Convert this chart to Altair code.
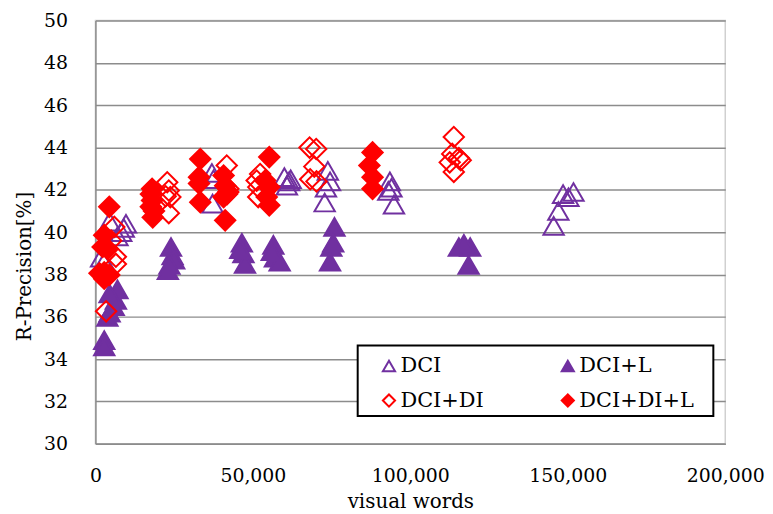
import altair as alt
import pandas as pd

SERIES = ["DCI", "DCI+L", "DCI+DI", "DCI+DI+L"]
PURPLE = "#7030A0"
RED = "#FF0000"

# DCI (open triangles)
dci_x = [1800, 2800, 4500, 7000, 8200, 9000, 9700,
         37000, 37500, 37200,
         60000, 60800, 61500, 62000,
         73800, 74500, 73200, 72800,
         93500, 94000, 93000, 94800,
         148500, 151800, 150200, 147000, 145500]
dci_y = [38.8, 38.6, 40.5, 39.8, 40.0, 40.2, 40.4,
         42.8, 42.5, 41.35,
         42.6, 42.2, 42.4, 42.5,
         42.9, 42.4, 42.1, 41.4,
         42.4, 42.1, 41.95, 41.3,
         41.8, 41.9, 41.65, 41.0, 40.3]

# DCI+L (filled triangles)
dcil_x = [2800, 2800, 3800, 4500, 5800, 6500, 7000, 4500,
          24000, 24500, 23000, 25000, 23500,
          46500, 47000, 47500, 46000,
          56500, 57000, 58500, 56000,
          75900, 74900, 74500, 75500,
          115400, 119000, 117000, 118500]
dcil_y = [34.9, 34.6, 36.0, 36.2, 36.5, 36.8, 37.3, 37.1,
          39.3, 38.9, 38.2, 38.7, 38.45,
          39.5, 39.0, 38.5, 39.2,
          39.4, 38.8, 38.6, 39.1,
          40.25, 39.3, 38.6, 39.5,
          39.3, 39.3, 39.45, 38.45]

# DCI+DI (open diamonds)
dcidi_x = [6000, 6500, 3400, 5000, 6500,
           22800, 23300, 22300, 23800, 23300,
           41700, 42200, 41800,
           52300, 51200, 51700, 51700,
           68000, 70100, 69500, 68200, 70200,
           113800, 113300, 115400, 112500, 113800, 116000]
dcidi_y = [40.25, 38.84, 36.26, 39.6, 38.5,
           42.36, 41.97, 41.7, 41.66, 40.9,
           43.15, 42.05, 41.8,
           42.75, 42.44, 42.13, 41.66,
           44.0, 43.93, 43.1, 42.5, 42.4,
           44.5, 43.7, 43.5, 43.3, 42.85, 43.4]

# DCI+DI+L (filled diamonds)
dcidil_x = [4400, 2800, 2300, 3900, 2800, 2800, 4400, 1300,
            18000, 17600, 18000, 17600, 18200, 18600,
            33300, 32900, 32900, 33300,
            40700, 41200, 40700, 41200, 42200,
            55200, 53900, 55200, 54400, 55200,
            88000, 87000, 88000, 88000]
dcidil_y = [41.2, 39.86, 39.3, 39.2, 38.1, 37.8, 37.98, 38.06,
            42.05, 41.8, 41.5, 41.2, 40.7, 41.0,
            43.46, 42.6, 42.3, 41.42,
            42.68, 42.2, 41.66, 40.56, 41.9,
            43.55, 42.44, 42.13, 41.66, 41.27,
            43.77, 43.15, 42.6, 42.05]

x_ticks = [0, 50000, 100000, 150000, 200000]
y_ticks = list(range(30, 51, 2))

frames = []
for name, xs, ys in [("DCI", dci_x, dci_y), ("DCI+L", dcil_x, dcil_y),
                     ("DCI+DI", dcidi_x, dcidi_y), ("DCI+DI+L", dcidil_x, dcidil_y)]:
    frames.append(pd.DataFrame({"words": xs, "rp": ys, "series": name}))
df = pd.concat(frames, ignore_index=True)
df["order"] = df["series"].map({s: i for i, s in enumerate(SERIES)})

FONT = "DejaVu Serif"

legend = alt.Legend(
    title=None, orient="none", legendX=285, legendY=337, columns=2,
    direction="horizontal",
    labelFont=FONT, labelFontSize=21, labelColor="black", labelOffset=1,
    symbolSize=150, symbolStrokeWidth=2, columnPadding=42, rowPadding=13,
    gridAlign="all", padding=0,
)

points = alt.Chart(df).mark_point(opacity=1, strokeWidth=2, size=420).encode(
    x=alt.X("words:Q", scale=alt.Scale(domain=[0, 200000], nice=False),
            axis=alt.Axis(values=x_ticks, format=",d", grid=False, ticks=False,
                          labelFlush=False,
                          title="visual words", labelPadding=23, titlePadding=6,
                          domainColor="#8c8c8c", domainWidth=1.5)),
    y=alt.Y("rp:Q", scale=alt.Scale(domain=[30, 50], nice=False, zero=False),
            axis=alt.Axis(values=y_ticks, grid=True, ticks=False, labelFlush=False,
                          title="R-Precision[%]", labelPadding=28,
                          titleX=-71, titleY=247, titleBaseline="middle",
                          gridColor="#8c8c8c", gridWidth=1.5,
                          domainColor="#8c8c8c", domainWidth=1.5)),
    shape=alt.Shape("series:N", scale=alt.Scale(domain=SERIES,
                    range=["triangle-up", "triangle-up", "diamond", "diamond"]), legend=legend),
    stroke=alt.Stroke("series:N", scale=alt.Scale(domain=SERIES,
                      range=[PURPLE, PURPLE, RED, RED]), legend=legend),
    fill=alt.Fill("series:N", scale=alt.Scale(domain=SERIES,
                  range=["transparent", PURPLE, "transparent", RED]), legend=legend),
    order=alt.Order("order:Q"),
)

box = alt.Chart(pd.DataFrame({"a": [0]})).mark_rect(
    fill="white", stroke="black", strokeWidth=2
).encode(x=alt.value(264), x2=alt.value(622), y=alt.value(327), y2=alt.value(398))

chart = alt.layer(points, box).properties(
    width=634, height=426,
    padding={"left": 88, "top": 11, "right": 40, "bottom": 67},
    autosize=alt.AutoSizeParams(type="none"),
).configure_view(
    stroke="#d0d0d0", strokeWidth=1.5
).configure_axis(
    labelFont=FONT, labelFontSize=19, labelColor="black",
    titleFont=FONT, titleFontSize=20, titleFontWeight="normal", titleColor="black",
)

chart.save("out.html", embed_options={"renderer": "svg", "actions": False})
